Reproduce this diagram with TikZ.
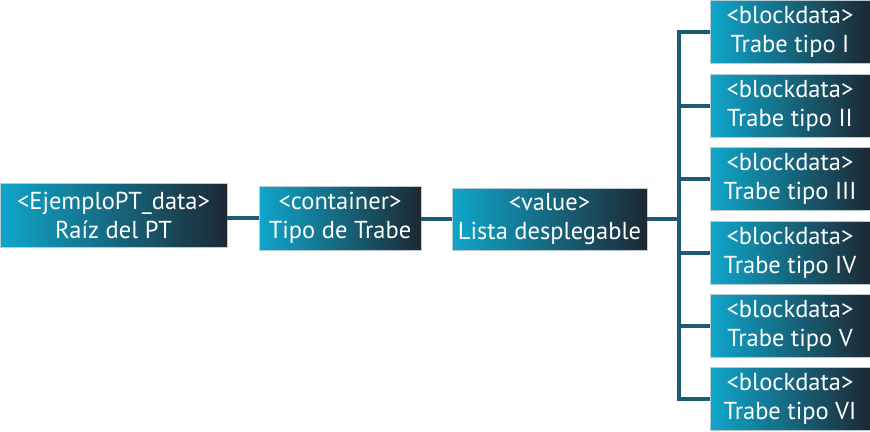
\documentclass[tikz,border=0pt]{standalone}
\usepackage{fontspec}
\setmainfont{PT Sans}
\definecolor{cA}{HTML}{0FA6CB}
\definecolor{cB}{HTML}{1D2833}
\definecolor{bord}{HTML}{B9CBD3}
\definecolor{wire}{HTML}{1E5A72}
\tikzset{
  boxnode/.style={rectangle, draw=bord, line width=0.6pt, left color=cA, right color=cB,
    text=white, align=center, inner sep=0pt,
    font=\fontsize{24.5}{29}\selectfont, minimum height=63pt},
  wireline/.style={draw=wire, line width=4pt},
}
\begin{document}
\begin{tikzpicture}[x=1pt,y=-1pt]
\useasboundingbox (0,0) rectangle (870,431);
\node[boxnode, minimum width=227pt, minimum height=64pt] (root) at (113.5,215) {<EjemploPT\_data>\\Raíz del PT};
\node[boxnode, minimum width=162pt, minimum height=64pt] (cont) at (340,218) {<container>\\Tipo de Trabe};
\node[boxnode, minimum width=195pt, minimum height=62pt] (val) at (549.5,219) {<value>\\Lista desplegable};
\node[boxnode, minimum width=160pt] (l1) at (790,31.5) {<blockdata>\\Trabe tipo I};
\node[boxnode, minimum width=160pt] (l2) at (790,105.5) {<blockdata>\\Trabe tipo II};
\node[boxnode, minimum width=160pt] (l3) at (790,178.5) {<blockdata>\\Trabe tipo III};
\node[boxnode, minimum width=160pt] (l4) at (790,252.5) {<blockdata>\\Trabe tipo IV};
\node[boxnode, minimum width=160pt] (l5) at (790,325.5) {<blockdata>\\Trabe tipo V};
\node[boxnode, minimum width=160pt] (l6) at (790,399) {<blockdata>\\Trabe tipo VI};
\coordinate (bus) at (679,0);
\draw[wireline] (root.east |- cont.west) -- (cont.west);
\draw[wireline] (cont.east |- val.west) -- (val.west);
\draw[wireline] (val.east) -- (val.east -| bus);
\draw[wireline, line cap=rect] (l1.west -| bus) -- (l6.west -| bus);
\foreach \n in {l1,l2,l3,l4,l5,l6}{
  \draw[wireline] (\n.west -| bus) -- (\n.west);
}
\end{tikzpicture}
\end{document}
